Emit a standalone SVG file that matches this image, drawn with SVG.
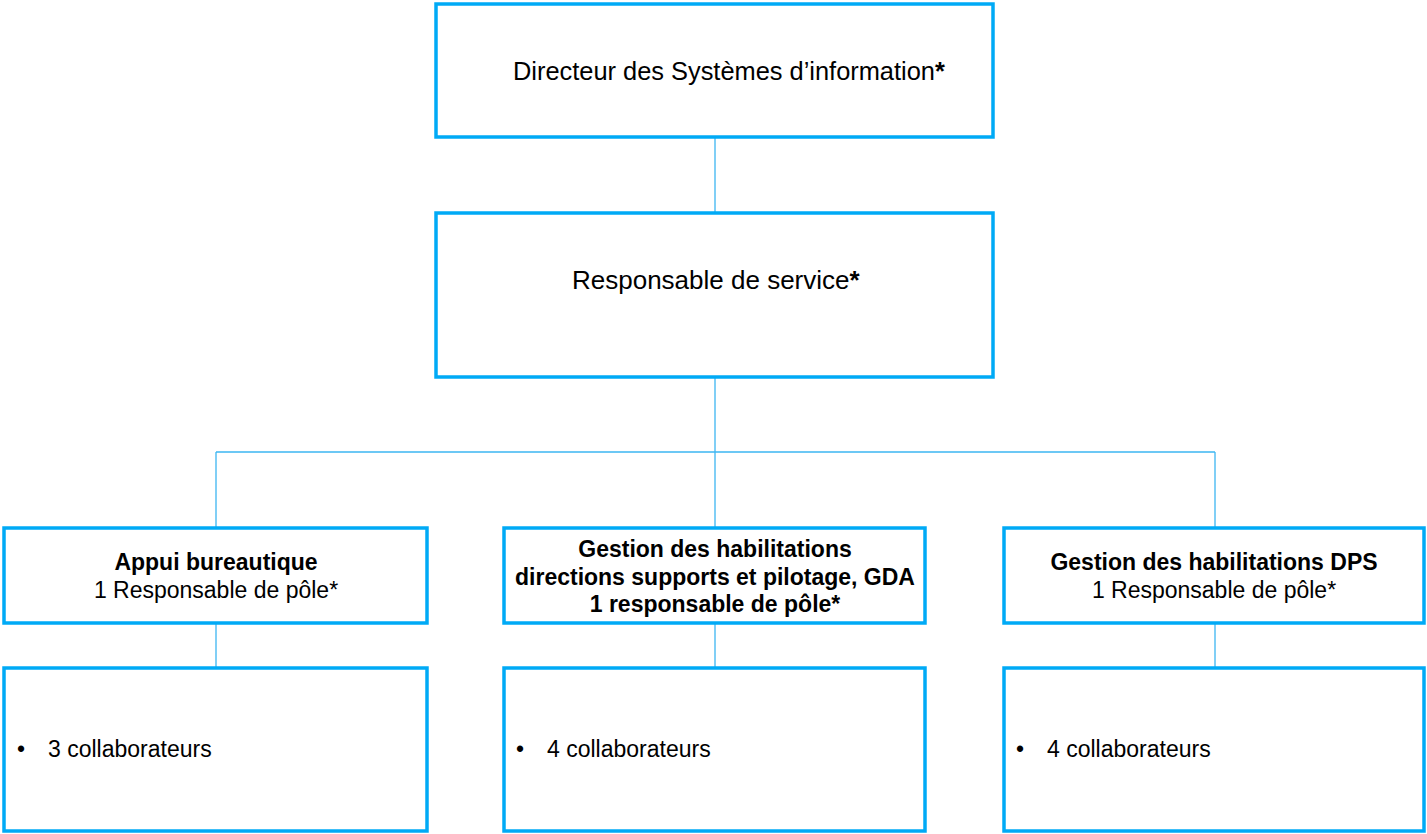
<svg xmlns="http://www.w3.org/2000/svg" width="1427" height="834" viewBox="0 0 1427 834">
<style>
.box{fill:#fff;stroke:#00AAF6;stroke-width:3.5}
.con{fill:none;stroke:#3DB6F2;stroke-width:1.3}
text{font-family:"Liberation Sans",Arial,sans-serif;fill:#000}
.big{font-size:25.4px}
.mid{font-size:23px}
.c{text-anchor:middle}
.b{font-weight:bold}
</style>
<rect width="1427" height="834" fill="#fff"/>
<g id="connectors">
<path class="con" d="M715 137V212M715 377V452M216 452H1215M216 452V528M715 452V528M1215 452V528M216 623V668M715 623V668M1215 623V668"/>
</g>
<g id="dsi">
<rect class="box" x="436" y="4" width="557" height="133"/>
<text class="big" x="513" y="80">Directeur des Systèmes d’information<tspan class="b">*</tspan></text>
</g>
<g id="resp">
<rect class="box" x="436" y="213" width="557" height="164"/>
<text x="572" y="289" style="font-size:26px">Responsable de service<tspan class="b">*</tspan></text>
</g>
<g id="appui">
<rect class="box" x="4" y="528" width="423" height="95"/>
<text class="mid c" x="216" y="570"><tspan class="b">Appui bureautique</tspan><tspan x="216" y="598">1 Responsable de pôle*</tspan></text>
</g>
<g id="gestion-ds">
<rect class="box" x="504" y="528" width="421" height="95"/>
<text class="mid c b" x="715" y="557">Gestion des habilitations<tspan x="715" y="585">directions supports et pilotage, GDA</tspan><tspan x="715" y="612">1 responsable de pôle*</tspan></text>
</g>
<g id="gestion-dps">
<rect class="box" x="1004" y="528" width="420" height="95"/>
<text class="mid c" x="1214" y="570"><tspan class="b">Gestion des habilitations DPS</tspan><tspan x="1214" y="598">1 Responsable de pôle*</tspan></text>
</g>
<g id="collab-appui">
<rect class="box" x="4" y="668" width="423" height="163"/>
<text class="mid" x="17" y="757">•</text>
<text class="mid" x="48" y="757">3 collaborateurs</text>
</g>
<g id="collab-ds">
<rect class="box" x="504" y="668" width="421" height="163"/>
<text class="mid" x="516" y="757">•</text>
<text class="mid" x="547" y="757">4 collaborateurs</text>
</g>
<g id="collab-dps">
<rect class="box" x="1004" y="668" width="420" height="163"/>
<text class="mid" x="1016" y="757">•</text>
<text class="mid" x="1047" y="757">4 collaborateurs</text>
</g>
</svg>
